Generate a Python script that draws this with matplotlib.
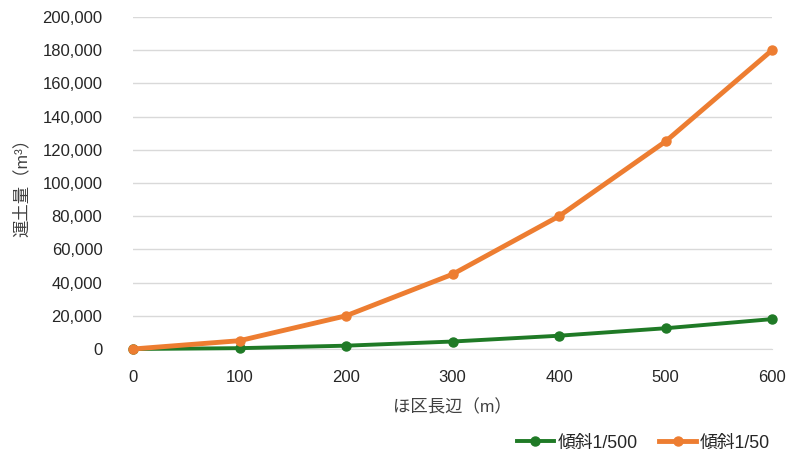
import matplotlib
matplotlib.use("Agg")
import matplotlib.pyplot as plt
from matplotlib.ticker import FuncFormatter, MultipleLocator

plt.rcParams['font.family'] = ['Liberation Sans', 'Noto Sans CJK JP']

x = [0, 100, 200, 300, 400, 500, 600]
slope_500 = [0, 500, 2000, 4500, 8000, 12500, 18000]
slope_50 = [0, 5000, 20000, 45000, 80000, 125000, 180000]
labels = ['傾斜1/500', '傾斜1/50']
colors = ['#1f7a26', '#ed7d31']

fig = plt.figure(figsize=(7.87, 4.54), dpi=100)
ax = fig.add_axes([133/787, 105/454, 639/787, 332/454])

ax.plot(x, slope_500, color=colors[0], lw=2.8, marker='o', ms=6.5, label=labels[0], zorder=3, clip_on=False)
ax.plot(x, slope_50, color=colors[1], lw=3.5, marker='o', ms=6.5, label=labels[1], zorder=3, clip_on=False)

ax.set_xlim(0, 600)
ax.set_ylim(0, 200000)
ax.xaxis.set_major_locator(MultipleLocator(100))
ax.yaxis.set_major_locator(MultipleLocator(20000))
ax.yaxis.set_major_formatter(FuncFormatter(lambda v, p: f'{int(v):,}'))
ax.grid(axis='y', color='#d9d9d9', lw=1)
ax.set_axisbelow(True)
for s in ['top', 'right', 'left']:
    ax.spines[s].set_visible(False)
ax.spines['bottom'].set_color('#d9d9d9')
ax.tick_params(axis='both', length=0, labelsize=12, colors='#262626')
ax.tick_params(axis='y', pad=22)
ax.tick_params(axis='x', pad=15)
ax.set_xlabel('ほ区長辺（m）', fontsize=12.5, color='#404040', labelpad=10)
ax.set_ylabel('運土量（m³）', fontsize=12.5, color='#404040', labelpad=9)

ax.legend(loc='center right', bbox_to_anchor=(786/787, 1 - 443/454),
          bbox_transform=fig.transFigure, ncol=2, frameon=False,
          fontsize=12.8, handlelength=2.1, columnspacing=1.2, handletextpad=0.2,
          labelcolor='#262626')

fig.savefig('out.png', dpi=100)
